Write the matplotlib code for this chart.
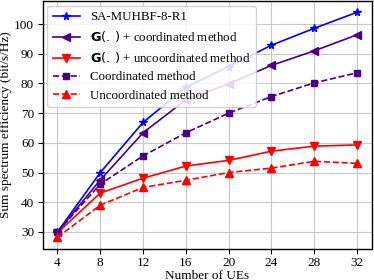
import matplotlib
matplotlib.use("Agg")
import matplotlib.pyplot as plt

plt.rcParams['font.family'] = ['Liberation Serif', 'DejaVu Serif']
plt.rcParams['mathtext.fontset'] = 'dejavusans'

ues = [4, 8, 12, 16, 20, 24, 28, 32]
sa_muhbf = [30.0, 50.0, 66.9, 78.7, 85.7, 92.9, 98.6, 104.0]
g_coord = [30.0, 47.5, 63.4, 74.5, 79.9, 86.1, 91.0, 96.4]
g_uncoord = [29.7, 43.1, 48.1, 52.2, 54.1, 57.2, 58.9, 59.3]
coord = [30.0, 46.1, 55.6, 63.4, 70.0, 75.6, 80.2, 83.6]
uncoord = [28.2, 39.0, 45.0, 47.4, 50.0, 51.5, 53.8, 53.1]

labels = ['SA-MUHBF-8-R1',
          r'$\mathbf{G}(.\,)$ + coordinated method',
          r'$\mathbf{G}(.\,)$ + uncoordinated method',
          'Coordinated method',
          'Uncoordinated method']

fig = plt.figure(figsize=(3.74, 2.8), dpi=100)
ax = fig.add_axes([42.5/374, 1 - 248.5/280, (372 - 42.5)/374, (248.5 - 1)/280])

lw = 1.2
ax.plot(ues, sa_muhbf, color='#0000FF', marker='*', ms=5.5, lw=lw, label=labels[0])
ax.plot(ues, g_coord, color='#4B0082', marker='<', ms=5.5, lw=lw, label=labels[1])
ax.plot(ues, g_uncoord, color='#FF0000', marker='v', ms=5.5, lw=lw, label=labels[2])
ax.plot(ues, coord, color='#4B0082', marker='s', ms=5, lw=lw, ls='--', label=labels[3])
ax.plot(ues, uncoord, color='#FF0000', marker='^', ms=5.5, lw=lw, ls='--', label=labels[4])

ax.set_xticks(ues)
ax.set_yticks([30, 40, 50, 60, 70, 80, 90, 100])
ax.grid(True, color='#c8c8c8', lw=0.8)
ax.tick_params(labelsize=9.5, length=3.5, width=0.8, pad=2.5)
ax.set_xlabel('Number of UEs', fontsize=9.5, labelpad=0.5)
ax.set_ylabel('Sum spectrum efficiency (bit/s/Hz)', fontsize=9.5, labelpad=1.5)
for s in ax.spines.values():
    s.set_linewidth(1.0)

leg = ax.legend(loc='upper left', fontsize=9.3, framealpha=0.85, edgecolor='#cccccc',
                fancybox=True, handlelength=2.1, borderpad=0.44, labelspacing=0.47,
                handletextpad=0.78, borderaxespad=0.35)

fig.savefig('out.png', dpi=100)
